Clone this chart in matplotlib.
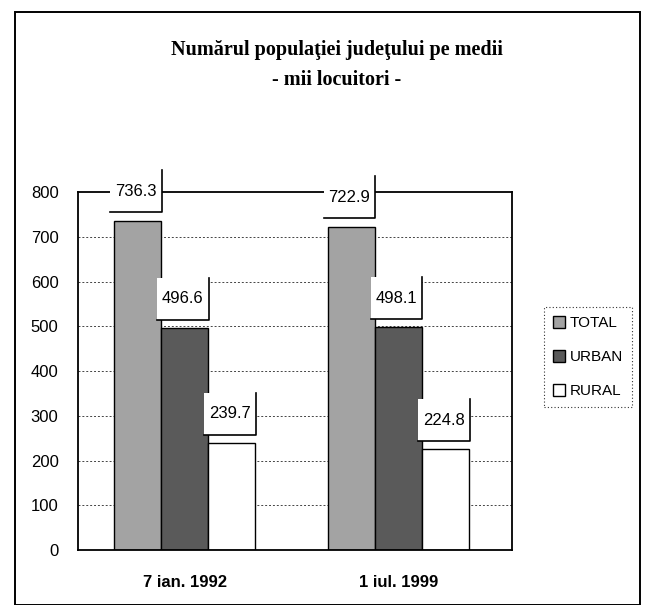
import numpy as np
import matplotlib.pyplot as plt
from matplotlib.patches import Rectangle, Patch

# date
categorii = ["7 ian. 1992", "1 iul. 1999"]
serii = ["TOTAL", "URBAN", "RURAL"]
total = [736.3, 722.9]
urban = [496.6, 498.1]
rural = [239.7, 224.8]
valori = [total, urban, rural]
culori = ["#a3a3a3", "#5a5a5a", "#ffffff"]

fig = plt.figure(figsize=(6.52, 6.05), dpi=100)
ax = fig.add_axes([0.1196, 0.0909, 0.6656, 0.5917])

# chenarul exterior
fig.patches.append(Rectangle((0.023, 0.0), 0.958, 0.98, transform=fig.transFigure,
                             fill=False, edgecolor="black", linewidth=1.4))

x = np.arange(len(categorii))
w = 0.22
for i, (s, v) in enumerate(zip(serii, valori)):
    pos = x + (i - 1) * w
    ax.bar(pos, v, width=w, color=culori[i], edgecolor="black", linewidth=1.0,
           label=s, zorder=2)
    for xp, val in zip(pos, v):
        bw, bh = 0.243, 94
        x0, y0 = xp - bw / 2 - 0.01, val + 18
        ax.add_patch(Rectangle((x0, y0), bw, bh, facecolor="white", edgecolor="none",
                               zorder=4, clip_on=False))
        ax.plot([x0, x0 + bw, x0 + bw], [y0, y0, y0 + bh], color="black",
                linewidth=1.2, zorder=5, clip_on=False)
        ax.text(x0 + bw / 2, y0 + bh / 2, f"{val:.1f}", ha="center", va="center",
                fontsize=12, family="Liberation Sans", zorder=6)

ax.set_xlim(-0.5, 1.53)
ax.set_ylim(0, 800)
ax.set_yticks(range(0, 801, 100))
ax.set_yticklabels([str(t) for t in range(0, 801, 100)], family="Liberation Sans", fontsize=12)
ax.set_xticks(x)
ax.set_xticklabels(categorii, family="Liberation Sans", fontsize=12, fontweight="bold")
ax.tick_params(axis="y", length=0, pad=14)
ax.tick_params(axis="x", length=0, pad=18)
for yv in range(100, 800, 100):
    ax.axhline(yv, color="#444444", linestyle=(0, (2, 2)), linewidth=0.7, zorder=1)
for sp in ax.spines.values():
    sp.set_linewidth(1.3)

fig.text(0.517, 0.917, "Numărul populaţiei judeţului pe medii", ha="center", va="center",
         fontsize=14.5, fontweight="bold", family="Liberation Serif")
fig.text(0.517, 0.868, "- mii locuitori -", ha="center", va="center",
         fontsize=14.5, fontweight="bold", family="Liberation Serif")

handles = [Patch(facecolor=c, edgecolor="black", label=s) for c, s in zip(culori, serii)]
leg = fig.legend(handles=handles, loc="center left", bbox_to_anchor=(0.822, 0.41),
                 prop={"family": "Liberation Sans", "size": 11}, handlelength=0.8,
                 handleheight=0.8, handletextpad=0.3, labelspacing=1.3,
                 fancybox=False, borderpad=0.6)
leg.get_frame().set_edgecolor("black")
leg.get_frame().set_linestyle((0, (1, 2)))
leg.get_frame().set_linewidth(0.8)

fig.savefig("out.png", dpi=100)
